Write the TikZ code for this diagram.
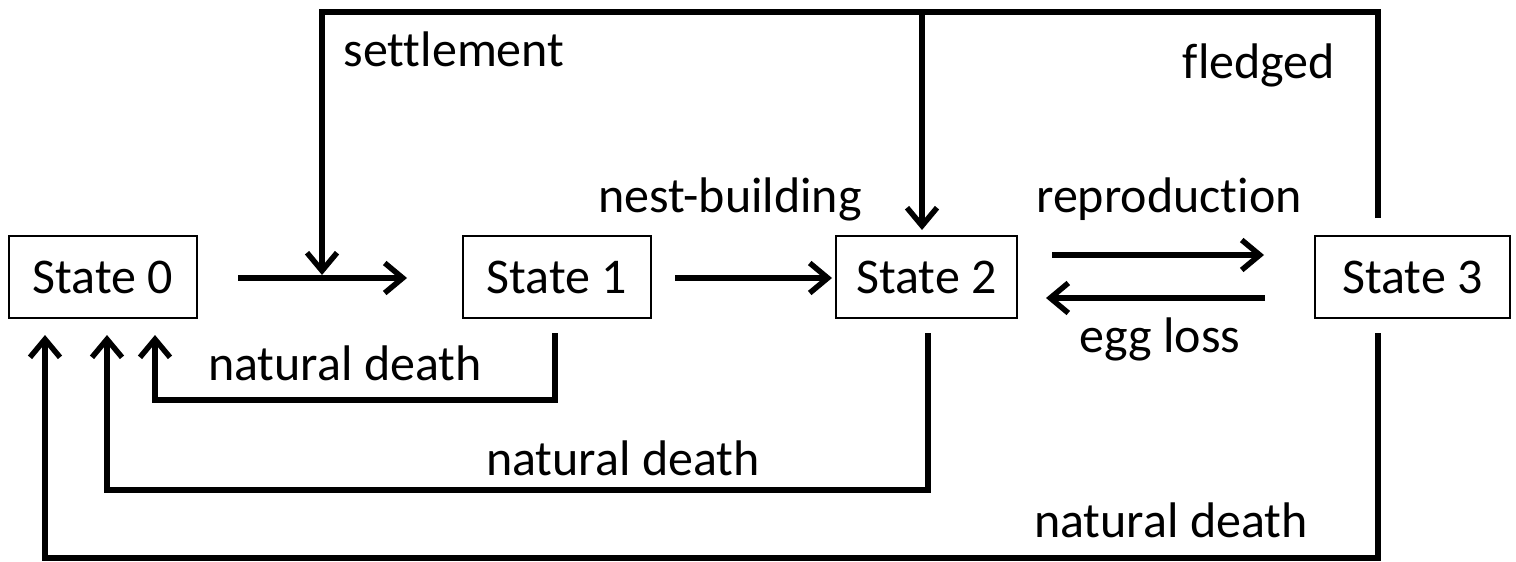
\documentclass[tikz,border=0pt]{standalone}
\usepackage{fontspec}
\setmainfont[Ligatures=NoCommon]{Carlito}
\usetikzlibrary{arrows.meta,calc}
\begin{document}
\begin{tikzpicture}[x=1pt,y=-1pt,
  statebox/.style={draw, line width=1.8pt, minimum width=#1, minimum height=82pt,
    inner sep=0pt, font=\fontsize{50}{60}\selectfont},
  lbl/.style={anchor=base, inner sep=0pt, font=\fontsize{50}{60}\selectfont},
  flow/.style={line width=5.5pt, -{Straight Barb[length=18pt,width=30pt]}},
  wire/.style={line width=5.5pt}]
\useasboundingbox (0,0) rectangle (1516,562);

% states
\node[statebox=188pt] (s0) at (103,277) {State 0};
\node[statebox=188pt] (s1) at (557,277) {State 1};
\node[statebox=181pt] (s2) at (926.5,277) {State 2};
\node[statebox=195pt] (s3) at (1412.5,277) {State 3};

% connector end points
\coordinate (a01s) at (238,278);
\coordinate (a01e) at (407,278);
\coordinate (settle) at (322,275);
\coordinate (a12s) at (675,278);
\coordinate (a12e) at (832,278);
\coordinate (reps) at (1052,255);
\coordinate (repe) at (1264,255);
\coordinate (eggs) at (1265,298);
\coordinate (egge) at (1046,298);
\coordinate (fl) at (1378,218);
\coordinate (flr) at (1378,12);
\coordinate (fll) at (322,12);
\coordinate (flm) at (922,12);
\coordinate (s2top) at (922,230);
\coordinate (d1s) at (555,333);
\coordinate (d1c) at (555,400);
\coordinate (d1e) at (155,335);
\coordinate (d2s) at (928,333);
\coordinate (d2c) at (928,490);
\coordinate (d2e) at (107,335);
\coordinate (d3s) at (1378,333);
\coordinate (d3c) at (1378,558);
\coordinate (d3e) at (45,335);

% transitions
\draw[flow] (a01s) -- (a01e);
\draw[flow] (a12s) -- (a12e);
\draw[flow] (reps) -- (repe);
\draw[flow] (eggs) -- (egge);

% fledged loop back to settlement and nest-building
\draw[flow] (fl) -- (flr) -- (fll) -- (settle);
\draw[flow] (flm) -- (s2top);

% natural death returns
\draw[flow] (d1s) -- (d1c) -| (d1e);
\draw[flow] (d2s) -- (d2c) -| (d2e);
\draw[flow] (d3s) -- (d3c) -| (d3e);

% labels
\node[lbl] (lsettle) at (454,66) {settlement};
\node[lbl] (lfledged) at (1259,78) {fledged};
\node[lbl] (lnest) at (730,212) {nest-building};
\node[lbl] (lrep) at (1169,212) {reproduction};
\node[lbl] (legg) at (1160,352) {egg loss};
\node[lbl] (ld1) at (345,380) {natural death};
\node[lbl] (ld2) at (623,475) {natural death};
\node[lbl] (ld3) at (1171,537) {natural death};
\end{tikzpicture}
\end{document}
